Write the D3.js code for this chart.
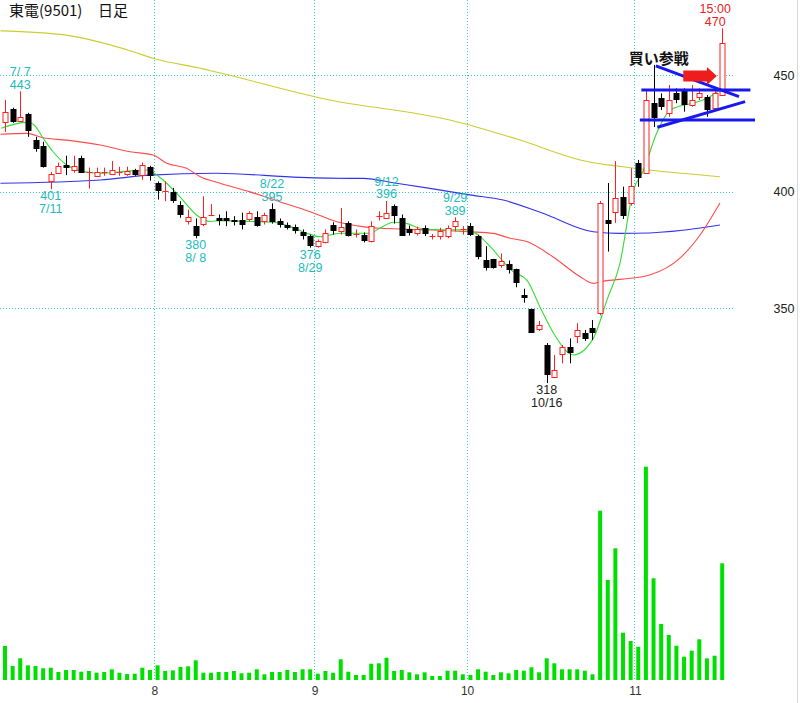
<!DOCTYPE html>
<html><head><meta charset="utf-8">
<script src="https://cdn.jsdelivr.net/npm/d3@7"></script>
<style>body{margin:0;background:#fff}svg{display:block}</style>
</head><body><svg id="c" width="800" height="703"></svg>
<script>
// ---- data ----
const opens  = [430,435.5,430.3,433.3,422.2,419.4,404.4,408,411.5,409.4,414.5,408.4,406.5,408.6,407.7,408.4,407.7,409.4,407.3,410.6,
403.7,400.1,399.7,394.4,387.3,385.2,386.3,390.2,388.8,388.8,388,388,388.3,389,387.3,392.6,387.3,385.5,384.8,382.8,380.9,
376.9,378.3,385.5,383.3,386.6,381.9,381.6,378.8,389.5,388.8,394,388.8,383.8,382.3,384.5,381.2,381.2,380.9,385.2,383.8,
385.2,380.9,370.5,371,368.4,369.2,366.7,355.6,349.6,341.3,334.3,320.7,330.4,333.3,338.1,339.3,341.4,348,387.9,391.3,397.7,395,
412.2,407.9,437.9,440,433.6,442.1,443.6,437.1,440.7,440.7,435.7,441.4];
const highs  = [439.3,436,443,433.8,423.5,421.4,408.5,412.4,415.4,415.4,415.4,410.3,410.3,410.3,413.2,410.7,410.7,409.8,412.5,411.1,
404.4,404.4,401.6,395.9,392.3,388.5,398,394.7,390.2,391.6,389.5,391,391.6,391.6,391,395,388.5,386.8,385.9,383.8,381.6,
379.5,383.8,386.9,393,387.3,383.8,382.5,387.3,391.6,396,394.5,390.2,385.5,385,385.5,381.9,384.5,385.5,389,385.2,
386.6,381.5,376.6,371.2,373.5,370.5,367,358.4,349.8,344.6,335.1,330,334.3,337.1,343.6,340.7,345,396,403.7,413.1,402.1,410,
413.6,443.6,454.3,442.1,445.7,444.3,444.3,445.7,444.3,441.4,443.6,470];
const lows   = [425.6,429.5,430,423.5,417.1,410.3,401,408,407.1,408.1,408.1,401.3,406.5,406.8,407.5,406.8,406.8,406.8,405.1,404.7,
396.6,395.9,395.2,388.8,385.9,380,385.2,389.5,385.5,385.2,385.5,383.8,387.3,385,385.9,386.3,384.6,383.8,382,379.5,376,
376,377.8,381.6,381.6,380.8,380.3,378.2,378.2,387.7,388.8,386.3,381,381.2,381.2,381,379.5,379.5,380,383,381.6,
381,371,366.2,367,367.4,364.9,359,352.4,339.4,340.3,318,320.5,326.4,326.4,335,336,336.4,347,374.3,386.6,388.3,394,
402.1,407.6,427.7,435,432.1,437.9,434.3,436.4,439.3,432.1,435,441];
const closes = [434.2,430,432,426.1,418.4,410.4,407.7,411.2,410.3,411.1,408.2,408.4,408.4,408.6,409.1,408.4,409,407.3,411.5,406.8,
400.1,400.1,395.9,390.2,389,381,389,390.2,387.6,387.3,386.9,385.5,390.9,385.2,390.2,386.9,385.5,384.5,383.3,381.2,376.6,
378.8,382.3,383,384.8,380.9,381.9,378.8,385.2,389.5,390.9,389.5,381.2,382.3,383.8,382,381.2,383,384.5,387.3,383.8,
381.3,372.1,367.1,367.4,370.2,366.4,361,354.6,339.6,342.7,321.4,323.6,333.3,330.7,340.7,336.7,339.3,395,386.1,397.3,389.6,402.4,
405.7,439.3,431.5,436.4,439.3,439.3,437.1,439.3,442.1,435,442.1,463.8];
const volumes = [3400,1400,2170,1470,1400,1170,1230,800,1000,1000,830,900,730,800,1070,730,600,630,1230,1000,
1470,900,970,1300,1370,1970,730,730,800,800,900,670,730,1070,570,800,800,1000,800,1070,1070,
630,900,730,2070,830,500,500,1630,1670,2230,900,1000,770,570,770,400,400,930,930,570,
500,1070,830,500,770,670,1000,930,1270,770,2170,1670,1070,1070,1070,930,570,16930,10000,13170,4730,3900,
3330,21330,10170,5600,4500,3430,2330,2930,4070,2170,2430,11670];
const monthStarts = [20,41,61,83];
const monthLabels = ["8","9","10","11"];
const priceTicks = [350,400,450];
// moving averages: [bar index, price]
const maShort = [[-0.5,427.2],[2.8,429.7],[3.7,428.9],[5,422.9],[6.3,417.1],[8.1,411.4],[9.8,408.9],[12.5,407.9],[16.4,408.9],[18.6,409.3],
[20.7,405.0],[22.9,397.9],[25.1,390.0],[26.9,387.2],[28.2,387.6],[32.1,387.2],[35.1,386.9],[37.4,385.0],[39.5,382.2],[41.3,380.7],
[43.9,382.2],[47.8,382.2],[49.1,384.3],[50.9,386.9],[52.6,386.4],[54.4,384.3],[57.4,383.6],[60.5,383.6],[62.3,380.7],[63.6,376.4],
[66.6,365.7],[68.4,362.1],[70.1,350.7],[71.9,339.3],[74.5,330.0],[77.1,337.1],[78.9,353.6],[80.6,369.3],[82.3,400.0],[83.7,409.3],
[85.4,425.0],[87.2,435.0],[88.5,436.7],[90.2,437.9],[92.0,440.0],[93.7,443.6]];
const maMid = [[-0.6,424.6],[2.8,425.0],[5,423.1],[8.1,422.1],[12.5,420.0],[16.4,417.1],[19.4,415.7],[21.2,412.2],[23.8,410.0],[25.6,406.4],
[28.2,403.6],[32.1,399.9],[36.0,395.7],[40,391.4],[43.5,387.1],[46.9,385.0],[49.1,384.3],[55.7,383.6],[60.9,382.8],[64,382.1],
[66.2,380.0],[68.4,378.6],[71.8,372.1],[75.4,363.5],[77.1,360.7],[78,361.4],[80.6,362.4],[84.5,364.3],[88.5,371.6],[91.1,381.4],[93.7,395.1]];
const maLong = [[-0.6,403.6],[12.5,405.0],[19,407.1],[27.7,407.9],[38.7,406.1],[45.2,405.7],[46.9,405.7],[51.3,403.6],[55.7,401.4],
[60.9,398.6],[65.3,396.4],[70.5,390.7],[77.1,382.8],[80.6,382.1],[84.5,382.3],[91.1,384.4],[93.7,385.7]];
const maVeryLong = [[-0.6,468.9],[8,467.1],[16.8,460.0],[19.4,457.2],[25.6,452.9],[42.6,439.3],[58.3,430.7],[67.5,422.1],[75.4,413.6],[82.6,410.0],[93.7,406.4]];
// date/price notes
const noteIdx   = [2,6,25,35,40,50,59,71,94];
const noteTop   = ["7/ 7","401","380","8/22","376","9/12","9/29","318","15:00"];
const noteBot   = ["443","7/11","8/ 8","395","8/29","396","389","10/16","470"];
const noteAbove = [true,false,false,true,false,true,true,false,true];
const noteKind  = ["c","c","c","c","c","c","c","k","r"];
// triangle annotation lines [i1,p1,i2,p2]
const trendLines = [[83.4,443.6,97.7,443.6],[83.2,430.7,98.3,430.7],[85.3,453.9,96.2,440.7],[85.5,427.6,97.0,438.6]];

// ---- scales ----
const svg = d3.select("#c");
const x = d3.scaleLinear().domain([0,94]).range([5,722.2]);
const y = d3.scaleLinear().domain([350,450]).range([308.3,75]);
const yv = d3.scaleLinear().domain([0,21330]).range([680,466.7]);
const grid = "#3cc";
const RED = "#ff2020";

// frame edge
svg.append("line").attr("x1",797.5).attr("x2",797.5).attr("y1",0).attr("y2",703).attr("stroke","#d8d8d8");

// grid lines
svg.append("g").selectAll("line").data(priceTicks).join("line")
  .attr("x1",0).attr("x2",735).attr("y1",d=>Math.round(y(d))+0.5).attr("y2",d=>Math.round(y(d))+0.5)
  .attr("stroke",grid).attr("stroke-dasharray","1,2");
svg.append("g").selectAll("line").data(monthStarts).join("line")
  .attr("x1",d=>Math.round(x(d-0.5))+0.5).attr("x2",d=>Math.round(x(d-0.5))+0.5).attr("y1",0).attr("y2",681)
  .attr("stroke",grid).attr("stroke-dasharray","1,2");

// axis labels
svg.append("g").selectAll("text").data(priceTicks).join("text")
  .attr("x",784).attr("y",d=>y(d)+4.5).attr("text-anchor","middle")
  .attr("font-family","Liberation Sans, sans-serif").attr("font-size",12.5).attr("fill","#222").text(d=>d);
svg.append("g").selectAll("text").data(monthStarts).join("text")
  .attr("x",(d,i)=>x(d-0.5)+1).attr("y",695).attr("text-anchor","middle")
  .attr("font-family","Liberation Sans, sans-serif").attr("font-size",12).attr("fill","#333").text((d,i)=>monthLabels[i]);

// volume
svg.append("g").selectAll("rect").data(volumes).join("rect")
  .attr("x",(d,i)=>x(i)-2).attr("width",4).attr("y",d=>yv(d)).attr("height",d=>680-yv(d)).attr("fill","#00e000");

// moving averages
const line = d3.line().x(d=>x(d[0])).y(d=>y(d[1])).curve(d3.curveMonotoneX);
[[maVeryLong,"#cccc33"],[maLong,"#3333ee"],[maMid,"#ff4a4a"],[maShort,"#33dd33"]].forEach(([d,c])=>{
  svg.append("path").datum(d).attr("d",line).attr("fill","none").attr("stroke",c).attr("stroke-width",1.1);
});

// candles
const idx = d3.range(opens.length);
const cg = svg.append("g");
idx.forEach(i=>{
  const o=opens[i],c=closes[i],h=highs[i],l=lows[i];
  const cx = Math.round(x(i))+0.5;
  const col = c>o ? RED : (c<o ? "#000" : RED);
  cg.append("line").attr("x1",cx).attr("x2",cx).attr("y1",y(h)).attr("y2",y(l)).attr("stroke",col);
  if (c===o){
    cg.append("line").attr("x1",cx-3).attr("x2",cx+3).attr("y1",Math.round(y(c))+0.5).attr("y2",Math.round(y(c))+0.5).attr("stroke",RED);
  } else if (c>o){
    const top=Math.round(y(c))+0.5, bot=Math.round(y(o))+0.5;
    cg.append("rect").attr("x",cx-2.5).attr("width",5).attr("y",top).attr("height",Math.max(1,bot-top))
      .attr("fill","#fff").attr("stroke",RED);
  } else {
    const top=Math.round(y(o)), bot=Math.round(y(c));
    cg.append("rect").attr("x",cx-3).attr("width",6).attr("y",top).attr("height",Math.max(1,bot-top)).attr("fill","#000");
  }
});

// notes
const noteColor = {c:"#22bbbb",k:"#222",r:"#ee2020"};
noteIdx.forEach((bi,k)=>{
  const g = svg.append("g").attr("font-family","Liberation Sans, sans-serif").attr("font-size",12.5)
    .attr("fill",noteColor[noteKind[k]]).attr("text-anchor","middle");
  const cx = x(bi) - (bi === opens.length-1 ? 7 : 0);
  if (noteAbove[k]){
    const base = y(highs[bi]) - 2.5;
    g.append("text").attr("x",cx).attr("y",base).text(noteBot[k]);
    g.append("text").attr("x",cx).attr("y",base-12.5).text(noteTop[k]);
  } else {
    const base = y(lows[bi]) + 11;
    g.append("text").attr("x",cx).attr("y",base).text(noteTop[k]);
    g.append("text").attr("x",cx).attr("y",base+13).text(noteBot[k]);
  }
});

// triangle annotation
svg.append("g").selectAll("line").data(trendLines).join("line")
  .attr("x1",d=>x(d[0])).attr("y1",d=>y(d[1])).attr("x2",d=>x(d[2])).attr("y2",d=>y(d[3]))
  .attr("stroke","#1818f0").attr("stroke-width",3);
// arrow (in data space)
const arrowI = [88.9,92.0,93.3], arrowP = [445.5,453.6];
const ax0=x(arrowI[0]), ax1=x(arrowI[1]), ax2=x(arrowI[2]), ay0=y(arrowP[1]), ay1=y(arrowP[0]), am=(ay0+ay1)/2;
svg.append("path").attr("d",`M${ax0},${am-5.5}L${ax1},${am-5.5}L${ax1},${am-9}L${ax2},${am}L${ax1},${am+9}L${ax1},${am+5.5}L${ax0},${am+5.5}Z`)
  .attr("fill","#ee1c1c");
svg.append("text").attr("x",x(85.7)).attr("y",64).attr("text-anchor","middle")
  .attr("font-family","Noto Sans CJK JP").attr("font-weight","bold").attr("font-size",15).attr("fill","#111").text("買い参戦");

// title
svg.append("text").attr("x",9).attr("y",16).attr("font-family","Noto Sans CJK JP").attr("font-size",15).attr("fill","#111").text("東電(9501)");
svg.append("text").attr("x",98).attr("y",16).attr("font-family","Noto Sans CJK JP").attr("font-size",15).attr("fill","#111").text("日足");
</script></body></html>
